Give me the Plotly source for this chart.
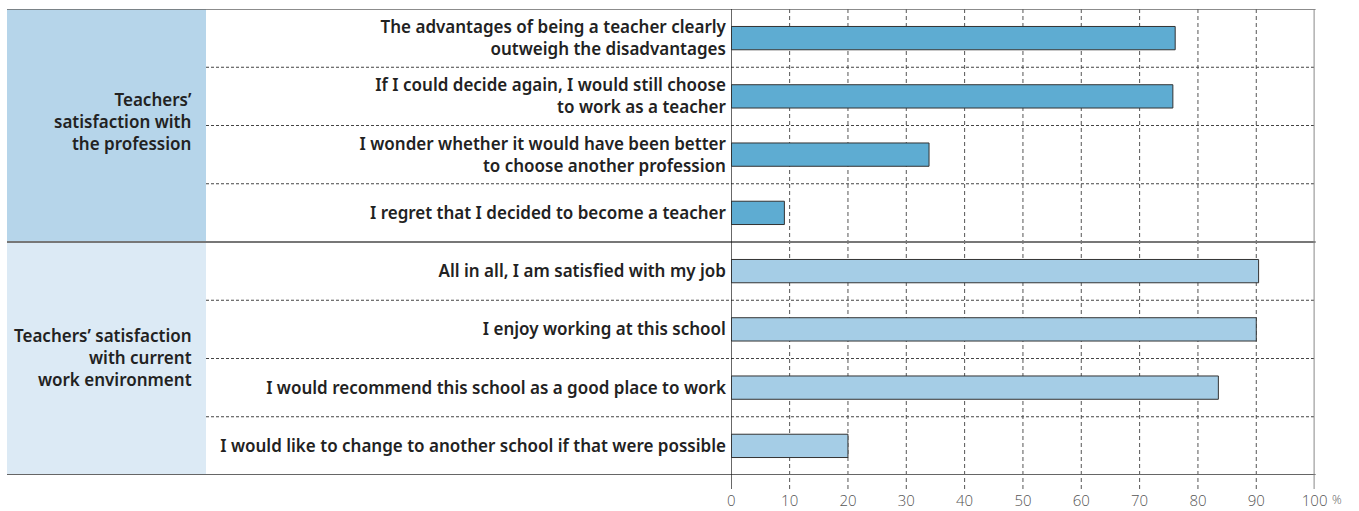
import plotly.graph_objects as go

W, H = 1359, 511

items = [
    "The advantages of being a teacher clearly<br>outweigh the disadvantages",
    "If I could decide again, I would still choose<br>to work as a teacher",
    "I wonder whether it would have been better<br>to choose another profession",
    "I regret that I decided to become a teacher",
    "All in all, I am satisfied with my job",
    "I enjoy working at this school",
    "I would recommend this school as a good place to work",
    "I would like to change to another school if that were possible",
]
values = [76.1, 75.7, 33.9, 9.1, 90.4, 90.0, 83.5, 20.0]
groups = ["Teachers’<br>satisfaction with<br>the profession",
          "Teachers’ satisfaction<br>with current<br>work environment"]
group_rows = [(0, 3), (4, 7)]
group_yshift = [4, 1]
tick_vals = [0, 10, 20, 30, 40, 50, 60, 70, 80, 90, 100]
tick_text = [str(v) for v in tick_vals]

bar_dark = "#5eacd2"
bar_light = "#a5cde6"
panel_dark = "#b6d5ea"
panel_light = "#dceaf5"

colors = [bar_dark] * 4 + [bar_light] * 4

x0px, x100px = 731.3, 1314.6
ytop, ybot = 9, 475

LABEL_FONT = dict(family="Noto Sans", size=17, color="#222222", weight=600)
TICK_FONT = dict(family="Open Sans", size=15, color="#555555", weight=300)

fig = go.Figure()
fig.add_trace(go.Bar(
    x=values, y=list(range(len(items))), orientation="h",
    marker=dict(color=colors, line=dict(color="#333333", width=1)),
    width=0.4, hoverinfo="skip",
))

def px_x(p):
    return p / W

def px_y(p):
    return (H - p) / H

shapes = []
for (a, b), col in zip(group_rows, [panel_dark, panel_light]):
    shapes.append(dict(type="rect", xref="paper", yref="y",
                       x0=px_x(7), x1=px_x(206), y0=a - 0.5, y1=b + 0.5,
                       fillcolor=col, line=dict(width=0), layer="below"))
for i in [0.5, 1.5, 2.5, 4.5, 5.5, 6.5]:
    shapes.append(dict(type="line", xref="paper", yref="y",
                       x0=px_x(206), x1=px_x(x100px), y0=i, y1=i,
                       line=dict(color="#444444", width=1, dash="3px,2px")))
for v in tick_vals[1:-1]:
    shapes.append(dict(type="line", xref="x", yref="paper",
                       x0=v, x1=v, y0=px_y(489), y1=px_y(ytop),
                       line=dict(color="#555555", width=1, dash="4px,3px"),
                       layer="below"))
for yy, col, wd in [(-0.5, "#666666", 1.5), (3.5, "#777777", 2), (7.5, "#666666", 2)]:
    shapes.append(dict(type="line", xref="paper", yref="y",
                       x0=px_x(7), x1=px_x(x100px + 1), y0=yy, y1=yy,
                       line=dict(color=col, width=wd)))
shapes.append(dict(type="line", xref="x", yref="paper", x0=0, x1=0,
                   y0=px_y(489), y1=px_y(ytop), line=dict(color="#111111", width=1.2)))
shapes.append(dict(type="line", xref="x", yref="paper", x0=100, x1=100,
                   y0=px_y(489), y1=px_y(ytop), line=dict(color="#888888", width=2)))

annotations = []
for (a, b), g, ys in zip(group_rows, groups, group_yshift):
    annotations.append(dict(x=px_x(194), xref="paper", y=(a + b) / 2, yref="y",
                            text=g, showarrow=False, xanchor="right", align="right",
                            yshift=ys, font=LABEL_FONT))
annotations.append(dict(x=px_x(1330), xref="paper", y=px_y(510), yref="paper",
                        text="%", showarrow=False, xanchor="left", yanchor="bottom",
                        font=dict(family="Open Sans", size=12, color="#555555", weight=300)))

fig.update_layout(
    width=W, height=H,
    margin=dict(l=0, r=0, t=0, b=0, autoexpand=False),
    paper_bgcolor="white", plot_bgcolor="rgba(0,0,0,0)",
    showlegend=False,
    shapes=shapes, annotations=annotations,
    xaxis=dict(domain=[px_x(x0px), px_x(x100px)], range=[0, 100],
               tickvals=tick_vals, ticktext=tick_text, automargin=False,
               showgrid=False, zeroline=False, showline=False,
               ticks="outside", ticklen=12, tickcolor="rgba(0,0,0,0)",
               tickfont=TICK_FONT,
               fixedrange=True),
    yaxis=dict(domain=[px_y(ybot), px_y(ytop)], range=[7.5, -0.5],
               tickvals=list(range(len(items))), ticktext=items, automargin=False,
               showgrid=False, zeroline=False, showline=False,
               ticks="outside", ticklen=1, tickcolor="rgba(0,0,0,0)",
               tickfont=LABEL_FONT,
               fixedrange=True),
)

fig.write_html("out.html", config={"displayModeBar": False},
               post_script="document.body.style.margin='0';document.body.style.overflow='hidden';")
